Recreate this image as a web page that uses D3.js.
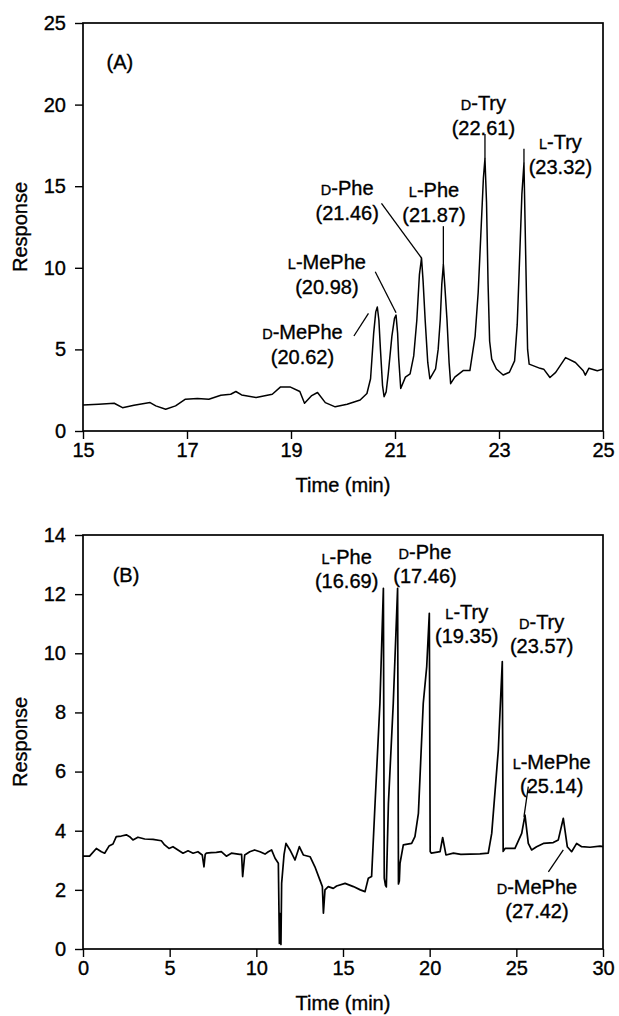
<!DOCTYPE html>
<html>
<head>
<meta charset="utf-8">
<script src="https://cdn.jsdelivr.net/npm/d3@7.9.0/dist/d3.min.js"></script>
<style>
  body { margin: 0; background: #fff; }
  svg { display: block; font-family: "Liberation Sans", Arial, sans-serif; }
  text { stroke: #000; stroke-width: 0.35; fill: #000; }
  .tick text { font-size: 20px; }
  .tick line { stroke: #000; stroke-width: 1.4; }
</style>
</head>
<body>
<svg id="chart" width="619" height="1016"></svg>
<script>
// ---- panel A: chromatogram (time in min, response) ----
const traceA = [
  [15,1.6],[15.3,1.64],[15.6,1.7],[15.76,1.43],[15.98,1.58],[16.29,1.74],[16.4,1.54],
  [16.59,1.33],[16.78,1.54],[16.97,1.95],[17.2,1.99],[17.42,1.95],[17.65,2.19],[17.84,2.25],
  [17.94,2.42],[18.05,2.21],[18.33,2.05],[18.64,2.25],[18.8,2.7],[18.98,2.7],[19.17,2.42],
  [19.26,1.7],[19.39,2.15],[19.51,2.36],[19.66,1.74],[19.85,1.48],[20.08,1.64],[20.33,1.9],
  [20.46,2.3],[20.53,3.2],[20.59,6.0],[20.63,7.3],[20.66,7.6],[20.69,6.8],[20.72,5.0],
  [20.76,2.8],[20.79,2.1],[20.83,2.4],[20.87,3.5],[20.94,5.8],[20.99,6.9],[21.02,7.1],
  [21.05,6.0],[21.07,4.5],[21.11,2.6],[21.2,3.3],[21.29,3.5],[21.36,4.6],[21.42,6.8],
  [21.47,9.6],[21.51,10.6],[21.54,9.2],[21.58,6.8],[21.63,4.2],[21.67,3.2],[21.78,3.8],
  [21.83,5.0],[21.87,6.8],[21.9,9.0],[21.93,10.2],[21.96,8.8],[22.0,6.8],[22.04,4.2],
  [22.07,2.9],[22.15,3.3],[22.31,3.7],[22.44,3.7],[22.54,5.8],[22.6,8.5],[22.65,12],
  [22.7,15.5],[22.73,16.7],[22.76,14],[22.79,9],[22.82,5.5],[22.86,4.4],[22.95,3.8],
  [23.08,3.43],[23.2,3.6],[23.3,4.3],[23.35,6.5],[23.39,10],[23.44,14.5],[23.48,16.4],
  [23.5,13],[23.53,8],[23.55,5],[23.58,4.1],[23.79,3.84],[23.86,3.79],[23.98,3.28],
  [24.09,3.59],[24.28,4.5],[24.47,4.2],[24.62,3.69],[24.66,3.42],[24.73,3.85],[24.89,3.69],
  [25,3.79]
];
const xTicksA = [15, 17, 19, 21, 23, 25];
const yTicksA = [0, 5, 10, 15, 20, 25];
const namesA = ["D-MePhe", "L-MePhe", "D-Phe", "L-Phe", "D-Try", "L-Try"];
const timesA = ["(20.62)", "(20.98)", "(21.46)", "(21.87)", "(22.61)", "(23.32)"];
const labelAtA = [[19.22,6.08],[19.69,10.37],[20.08,14.92],[21.75,14.77],[22.7,20.1],[24.18,17.7]];
const leadersA = [
  [[20.21,5.82],[20.49,7.21]],
  [[20.62,9.76],[21.02,7.25]],
  [[20.74,13.95],[21.51,10.6]],
  [[21.93,10.2],[21.93,12.55]],
  [[22.73,16.7],[22.73,18.2]],
  [[23.48,16.4],[23.48,17.3]]
];

// ---- panel B ----
const traceB = [
  [0,3.14],[0.38,3.14],[0.77,3.4],[1.06,3.29],[1.25,3.24],[1.5,3.48],[1.73,3.55],[1.92,3.8],
  [2.21,3.82],[2.5,3.86],[2.69,3.8],[2.88,3.69],[3.17,3.78],[3.56,3.72],[4.04,3.71],[4.52,3.66],
  [4.71,3.52],[4.96,3.4],[5.19,3.46],[5.48,3.35],[5.77,3.24],[6.06,3.32],[6.35,3.24],[6.63,3.29],
  [6.88,3.18],[6.98,2.78],[7.05,3.2],[7.12,3.24],[7.4,3.26],[7.69,3.27],[7.98,3.29],[8.27,3.14],
  [8.56,3.24],[9.04,3.2],[9.15,3.2],[9.21,2.45],[9.33,3.18],[9.62,3.29],[9.9,3.35],[10.21,3.29],
  [10.5,3.21],[10.69,3.29],[10.88,3.35],[11.08,3.07],[11.27,2.9],[11.33,0.19],[11.37,1.2],
  [11.42,0.15],[11.46,2.22],[11.6,3.2],[11.71,3.57],[11.94,3.35],[12.23,3.01],[12.48,3.46],
  [12.71,3.18],[13.1,3.12],[13.38,2.78],[13.67,2.33],[13.81,2.11],[13.87,1.21],[13.96,2.0],
  [14.15,2.11],[14.44,2.05],[14.63,2.13],[15.12,2.22],[15.6,2.11],[16.0,2.0],[16.27,1.94],
  [16.46,2.39],[16.65,2.45],[16.85,4.93],[17.13,8.31],[17.33,12.2],[17.38,2.4],[17.45,2.15],
  [17.5,2.1],[17.62,4.93],[17.9,8.31],[18.15,12.2],[18.2,2.2],[18.25,2.3],[18.29,2.9],
  [18.48,3.52],[18.96,3.57],[19.15,3.8],[19.35,4.59],[19.63,8.31],[19.83,9.55],[19.98,11.35],
  [20.03,3.3],[20.1,3.24],[20.6,3.29],[20.75,3.77],[20.94,3.18],[21.37,3.24],[21.8,3.2],
  [22.33,3.21],[22.9,3.22],[23.38,3.24],[23.58,3.91],[23.96,6.73],[24.19,9.72],[24.24,3.3],
  [24.35,3.4],[24.92,3.4],[25.31,3.91],[25.5,4.53],[25.69,3.57],[25.88,3.35],[26.17,3.46],
  [26.56,3.57],[27.13,3.6],[27.42,3.69],[27.71,4.42],[27.94,3.46],[28.19,3.29],[28.48,3.57],
  [28.77,3.46],[29.25,3.44],[29.83,3.48],[30,3.46]
];
const xTicksB = [0, 5, 10, 15, 20, 25, 30];
const yTicksB = [0, 2, 4, 6, 8, 10, 12, 14];
const namesB = ["L-Phe", "D-Phe", "L-Try", "D-Try", "L-MePhe", "D-MePhe"];
const timesB = ["(16.69)", "(17.46)", "(19.35)", "(23.57)", "(25.14)", "(27.42)"];
const labelAtB = [[15.21,13.27],[19.73,13.44],[22.14,11.41],[26.46,11.07],[27.04,6.33],[26.19,2.11]];
const leadersB = [
  [[25.69,5.49],[25.44,4.47]],
  [[27.71,3.35],[26.85,2.61]]
];

const svg = d3.select('#chart');
svg.append('rect').attr('width', 619).attr('height', 1016).attr('fill', '#fff');

function drawPanel(opt) {
  const x = d3.scaleLinear().domain(opt.xDomain).range([83, 603]);
  const y = d3.scaleLinear().domain(opt.yDomain).range([opt.bottom, opt.top]);
  const g = svg.append('g');

  g.append('g')
    .attr('transform', `translate(0,${opt.bottom})`)
    .call(d3.axisBottom(x).tickValues(opt.xTicks).tickSize(8).tickPadding(4).tickSizeOuter(0))
    .call(a => a.select('.domain').remove());
  g.append('g')
    .attr('transform', 'translate(83,0)')
    .call(d3.axisLeft(y).tickValues(opt.yTicks).tickSize(8).tickPadding(9).tickSizeOuter(0))
    .call(a => a.select('.domain').remove());

  g.append('rect')
    .attr('x', 83).attr('y', opt.top)
    .attr('width', 520).attr('height', opt.bottom - opt.top)
    .attr('fill', 'none').attr('stroke', '#000').attr('stroke-width', 1.7);

  const line = d3.line().x(d => x(d[0])).y(d => y(d[1]));
  g.append('path')
    .datum(opt.trace)
    .attr('d', line)
    .attr('fill', 'none')
    .attr('stroke', '#000')
    .attr('stroke-width', opt.width)
    .attr('stroke-linejoin', 'round');

  opt.leaders.forEach(l => {
    g.append('path').attr('d', line(l))
      .attr('stroke', '#000').attr('stroke-width', 1.3).attr('fill', 'none');
  });

  // peak labels: small-cap D / L prefix, then retention time underneath
  opt.names.forEach((name, i) => {
    const [lt, lv] = opt.labelAt[i];
    const t = g.append('text')
      .attr('x', x(lt)).attr('y', y(lv) + 7)
      .attr('text-anchor', 'middle')
      .attr('font-size', 20);
    t.append('tspan').attr('font-size', 14.5).text(name[0]);
    t.append('tspan').text(name.slice(1));
    g.append('text')
      .attr('x', x(lt)).attr('y', y(lv) + 7 + opt.gap)
      .attr('text-anchor', 'middle')
      .attr('font-size', 20)
      .text(opt.times[i]);
  });

  g.append('text')
    .attr('x', x(opt.tag[1][0])).attr('y', y(opt.tag[1][1]) + 7)
    .attr('text-anchor', 'middle').attr('font-size', 20)
    .text(opt.tag[0]);

  g.append('text')
    .attr('x', 343).attr('y', opt.bottom + 61)
    .attr('text-anchor', 'middle').attr('font-size', 20)
    .text('Time (min)');
  g.append('text')
    .attr('transform', `translate(27,${(opt.top + opt.bottom) / 2}) rotate(-90)`)
    .attr('text-anchor', 'middle').attr('font-size', 20)
    .text('Response');
}

drawPanel({
  xDomain: [15, 25], yDomain: [0, 25], top: 23, bottom: 431,
  xTicks: xTicksA, yTicks: yTicksA, trace: traceA, width: 1.5,
  names: namesA, times: timesA, labelAt: labelAtA, leaders: leadersA,
  gap: 25, tag: ['(A)', [15.71, 22.6]]
});
drawPanel({
  xDomain: [0, 30], yDomain: [0, 14], top: 535, bottom: 949,
  xTicks: xTicksB, yTicks: yTicksB, trace: traceB, width: 1.7,
  names: namesB, times: timesB, labelAt: labelAtB, leaders: leadersB,
  gap: 24, tag: ['(B)', [2.48, 12.65]]
});
</script>
</body>
</html>
